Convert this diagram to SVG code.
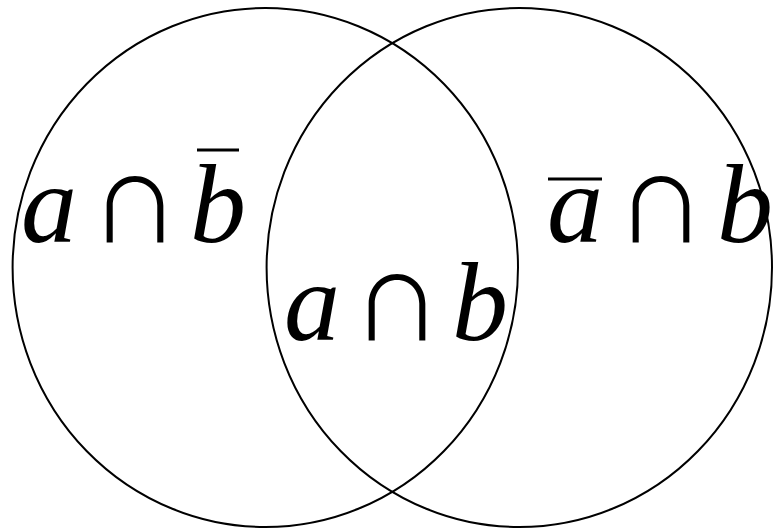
<svg xmlns="http://www.w3.org/2000/svg" width="774" height="532" viewBox="0 0 774 532">
<style>
.set{fill:none;stroke:#000;stroke-width:2}
.bar{stroke:#000;stroke-width:3}
</style>
<rect width="774" height="532" fill="#fff"/>
<g id="setA"><ellipse class="set" cx="265.3" cy="267.5" rx="252.7" ry="259.5"/></g>
<g id="setB"><ellipse class="set" cx="519.3" cy="267.5" rx="252.7" ry="259.5"/></g>
<g id="labelAnotB" fill="#000" text-anchor="middle">
<text x="49" y="242" font-family="Liberation Serif, serif" font-style="italic" font-size="112">a</text>
<text x="135" y="242" font-family="Noto Sans CJK JP, sans-serif" font-size="88">∩</text>
<text x="218" y="242" font-family="Liberation Serif, serif" font-style="italic" font-size="112">b</text>
<line class="bar" x1="197" y1="150" x2="239" y2="150"/>
</g>
<g id="labelAandB" fill="#000" text-anchor="middle">
<text x="312" y="340" font-family="Liberation Serif, serif" font-style="italic" font-size="112">a</text>
<text x="397" y="340" font-family="Noto Sans CJK JP, sans-serif" font-size="88">∩</text>
<text x="480" y="340" font-family="Liberation Serif, serif" font-style="italic" font-size="112">b</text>
</g>
<g id="labelNotAB" fill="#000" text-anchor="middle">
<text x="575" y="242" font-family="Liberation Serif, serif" font-style="italic" font-size="112">a</text>
<line class="bar" x1="548" y1="179" x2="602" y2="179"/>
<text x="661" y="242" font-family="Noto Sans CJK JP, sans-serif" font-size="88">∩</text>
<text x="745" y="242" font-family="Liberation Serif, serif" font-style="italic" font-size="112">b</text>
</g>
</svg>
